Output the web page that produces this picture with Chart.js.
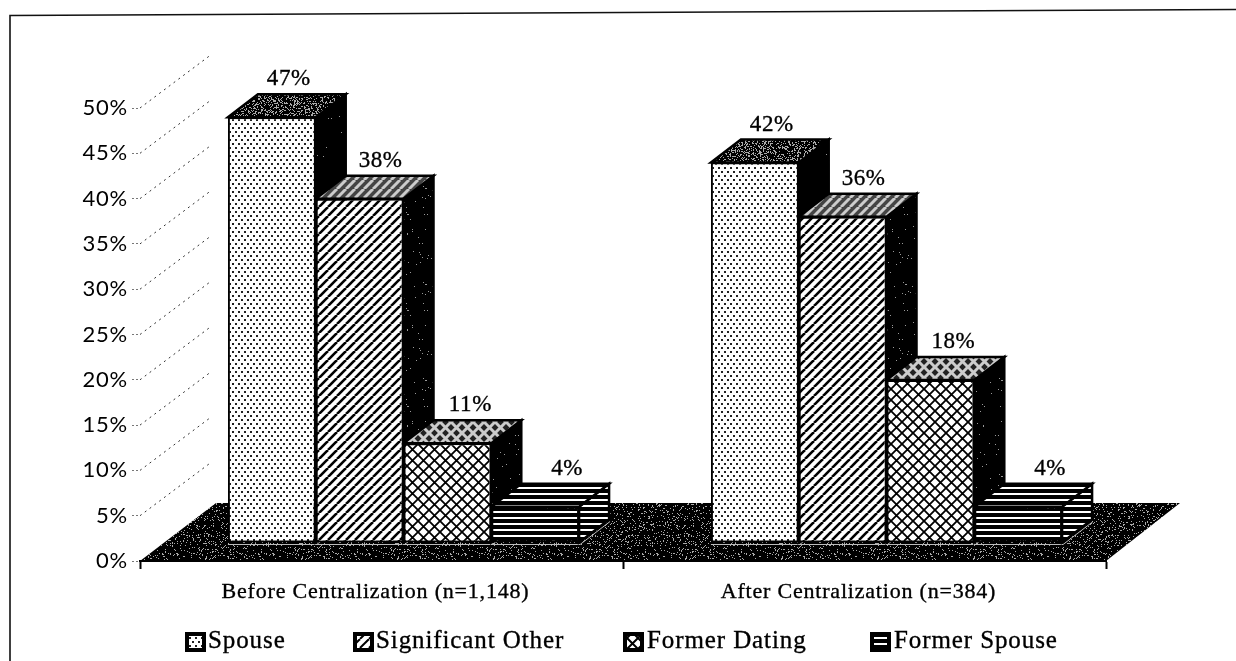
<!DOCTYPE html>
<html>
<head>
<meta charset="utf-8">
<style>html,body{margin:0;padding:0;background:#fff;overflow:hidden}#wrap{position:absolute;left:0;top:0;width:1236px;height:661px}</style>
<script src="https://cdn.jsdelivr.net/npm/chart.js@4"></script>
</head>
<body>
<div id="wrap"><canvas id="c" width="1236" height="661"></canvas></div>
<script>
const categories = ['Before Centralization (n=1,148)', 'After Centralization (n=384)'];
const seriesNames = ['Spouse', 'Significant Other', 'Former Dating', 'Former Spouse'];
const spouse = [47, 42];
const significantOther = [38, 36];
const formerDating = [11, 18];
const formerSpouse = [4, 4];
const yTicks = [0, 5, 10, 15, 20, 25, 30, 35, 40, 45, 50];

const SERIF = '"Liberation Serif", serif';
const FRONT_SHIFT = {x: 22, y: -18};
const BAR_DEPTH = {x: 30, y: -23};
const FLOOR_DEPTH = {x: 76, y: -58};
const WALL_DEPTH = {x: 72, y: -54};
const LABEL_DX = [17, 21, 23, 32];
const LEGEND_POS = [{box: 185, text: 208}, {box: 353, text: 376}, {box: 623, text: 647}, {box: 870, text: 894}];

function hash(x, y) {
  let n = Math.imul(x + 1, 374761393) + Math.imul(y + 1, 668265263) | 0;
  n = Math.imul(n ^ (n >>> 13), 1274126177);
  n = Math.imul(n ^ (n >>> 15), 2246822519);
  return ((n ^ (n >>> 16)) >>> 0) / 4294967296;
}
function tile(w, h, draw) {
  const t = document.createElement('canvas');
  t.width = w; t.height = h;
  const g = t.getContext('2d');
  draw(g, w, h);
  return document.createElement('canvas').getContext('2d').createPattern(t, 'repeat');
}
function speckle(density, light) {
  return tile(96, 96, (g, w, h) => {
    g.fillStyle = '#000'; g.fillRect(0, 0, w, h);
    for (let y = 0; y < h; y++) for (let x = 0; x < w; x++) {
      if (hash(x, y) < density) { g.fillStyle = light; g.fillRect(x, y, 1, 1); }
    }
  });
}
const dots = tile(6, 8, g => {
  g.fillStyle = '#fff'; g.fillRect(0, 0, 6, 8);
  g.fillStyle = '#222'; g.fillRect(0, 1, 2, 2); g.fillRect(3, 5, 2, 2);
});
function hatchTile(bg, fg, lw) {
  return tile(9, 9, g => {
    g.fillStyle = bg; g.fillRect(0, 0, 9, 9);
    g.strokeStyle = fg; g.lineWidth = lw;
    for (let k = -9; k <= 18; k += 9) { g.beginPath(); g.moveTo(k, 9); g.lineTo(k + 9, 0); g.stroke(); }
  });
}
function crossTile(bg, fg, lw) {
  return tile(11, 11, g => {
    g.fillStyle = bg; g.fillRect(0, 0, 11, 11);
    g.strokeStyle = fg; g.lineWidth = lw;
    g.beginPath(); g.moveTo(0, 0); g.lineTo(11, 11); g.moveTo(11, 0); g.lineTo(0, 11); g.stroke();
  });
}
const stripes = tile(6, 6, g => {
  g.fillStyle = '#000'; g.fillRect(0, 0, 6, 6);
  g.fillStyle = '#fff'; g.fillRect(0, 1, 6, 2);
});
const frontPatterns = [dots, hatchTile('#fff', '#000', 2.6), crossTile('#fff', '#000', 1.8), stripes];
const topPatterns = [speckle(0.3, '#aaa'), hatchTile('#444', '#ccc', 3), crossTile('#222', '#ccc', 3), stripes];
const sidePatterns = [speckle(0.004, '#999'), speckle(0.015, '#999'), speckle(0.01, '#999'), stripes];
const floorPattern = speckle(0.12, '#aaa');
const legendPatterns = [dots, hatchTile('#fff', '#000', 2), crossTile('#fff', '#000', 2), stripes];

function poly(ctx, pts, fill) {
  ctx.beginPath();
  pts.forEach((p, i) => i ? ctx.lineTo(p[0], p[1]) : ctx.moveTo(p[0], p[1]));
  ctx.closePath();
  ctx.fillStyle = fill;
  ctx.fill();
  ctx.lineWidth = 2.5; ctx.strokeStyle = '#000';
  ctx.stroke();
}
function inkText(ctx, s, x, y) {
  ctx.strokeStyle = '#000'; ctx.lineWidth = 0.35;
  ctx.fillText(s, x, y);
  ctx.strokeText(s, x, y);
}

const box3d = {
  id: 'box3d',
  beforeDraw(chart) {
    const ctx = chart.ctx, a = chart.chartArea, y = chart.scales.y;
    ctx.letterSpacing = '0.8px';
    ctx.save();
    ctx.strokeStyle = '#111'; ctx.lineWidth = 1.6;
    ctx.beginPath(); ctx.moveTo(10, 661); ctx.lineTo(10, 15.5); ctx.lineTo(1236, 9.5); ctx.stroke();
    ctx.strokeStyle = '#333'; ctx.lineWidth = 1; ctx.setLineDash([2, 4]);
    yTicks.filter(v => v > 0).forEach(v => {
      const py = y.getPixelForValue(v);
      ctx.beginPath(); ctx.moveTo(a.left, py); ctx.lineTo(a.left + WALL_DEPTH.x, py + WALL_DEPTH.y); ctx.stroke();
    });
    ctx.setLineDash([]);
    ctx.beginPath();
    ctx.moveTo(a.left, a.bottom);
    ctx.lineTo(a.left + FLOOR_DEPTH.x, a.bottom + FLOOR_DEPTH.y);
    ctx.lineTo(a.right + FLOOR_DEPTH.x - 2, a.bottom + FLOOR_DEPTH.y);
    ctx.lineTo(a.right, a.bottom);
    ctx.closePath();
    ctx.fillStyle = floorPattern; ctx.fill();
    ctx.restore();
  },
  beforeDatasetsDraw(chart) {
    const ctx = chart.ctx;
    ctx.save();
    ctx.translate(FRONT_SHIFT.x, FRONT_SHIFT.y);
    chart.data.labels.forEach((_, ci) => {
      chart.data.datasets.forEach((_, di) => {
        const b = chart.getDatasetMeta(di).data[ci];
        const l = b.x - b.width / 2, r = b.x + b.width / 2;
        const t = b.y, base = b.base, dx = BAR_DEPTH.x, dy = BAR_DEPTH.y;
        ctx.strokeStyle = '#bbb'; ctx.lineWidth = 1;
        ctx.beginPath(); ctx.moveTo(l, base + 2); ctx.lineTo(r + 1, base + 2); ctx.lineTo(r + dx + 1, base + dy + 2); ctx.stroke();
        poly(ctx, [[r, t], [r + dx, t + dy], [r + dx, base + dy], [r, base]], sidePatterns[di]);
        poly(ctx, [[l, t], [l + dx, t + dy], [r + dx, t + dy], [r, t]], topPatterns[di]);
      });
    });
  },
  afterDatasetsDraw(chart) {
    const ctx = chart.ctx;
    ctx.restore();
    ctx.save();
    ctx.fillStyle = '#000';
    ctx.font = '23px ' + SERIF;
    ctx.letterSpacing = '0.6px';
    ctx.textAlign = 'center'; ctx.textBaseline = 'middle';
    chart.data.datasets.forEach((ds, di) => {
      chart.getDatasetMeta(di).data.forEach((b, ci) => {
        inkText(ctx, ds.data[ci] + '%', b.x + FRONT_SHIFT.x + LABEL_DX[di], b.y + FRONT_SHIFT.y + BAR_DEPTH.y - 15);
      });
    });
    ctx.textAlign = 'left';
    ctx.font = '25px ' + SERIF;
    ctx.letterSpacing = '0.9px';
    chart.data.datasets.forEach((ds, di) => {
      const p = LEGEND_POS[di];
      ctx.fillStyle = legendPatterns[di]; ctx.fillRect(p.box, 632, 21, 20);
      ctx.strokeStyle = '#000'; ctx.lineWidth = 4; ctx.strokeRect(p.box + 2, 634, 17, 16);
      ctx.fillStyle = '#000';
      inkText(ctx, ds.label, p.text, 641);
    });
    ctx.restore();
  }
};

const seriesValues = [spouse, significantOther, formerDating, formerSpouse];
new Chart(document.getElementById('c'), {
  type: 'bar',
  data: {
    labels: categories,
    datasets: seriesNames.map((name, i) => ({
      label: name,
      data: seriesValues[i],
      backgroundColor: frontPatterns[i],
      borderColor: '#000',
      borderWidth: 2,
      borderSkipped: false,
      categoryPercentage: 0.727,
      barPercentage: 1,
      clip: false
    }))
  },
  options: {
    responsive: false,
    animation: false,
    events: [],
    layout: {padding: {top: 108, right: 130, left: 0, bottom: 0}},
    plugins: {legend: {display: false}, tooltip: {enabled: false}, title: {display: false}},
    scales: {
      x: {
        afterFit: s => { s.height = 100; },
        border: {display: true, color: '#000', width: 2},
        grid: {drawOnChartArea: false, drawTicks: true, tickLength: 8, tickColor: '#000', tickWidth: 2},
        ticks: {color: '#000', font: {family: SERIF, size: 22}, padding: 10, maxRotation: 0, labelOffset: -6,
                textStrokeColor: '#000', textStrokeWidth: 0.35}
      },
      y: {
        min: 0, max: 50,
        afterFit: s => { s.width = 140; },
        afterBuildTicks: s => { s.ticks = yTicks.map(v => ({value: v})); },
        border: {display: false},
        grid: {drawOnChartArea: false, drawTicks: true, tickLength: 8, tickColor: '#777', tickBorderDash: [2, 2]},
        ticks: {color: '#000', font: {family: 'Lato', size: 22}, padding: 4, callback: v => v + '%'}
      }
    }
  },
  plugins: [box3d]
});
</script>
</body>
</html>
